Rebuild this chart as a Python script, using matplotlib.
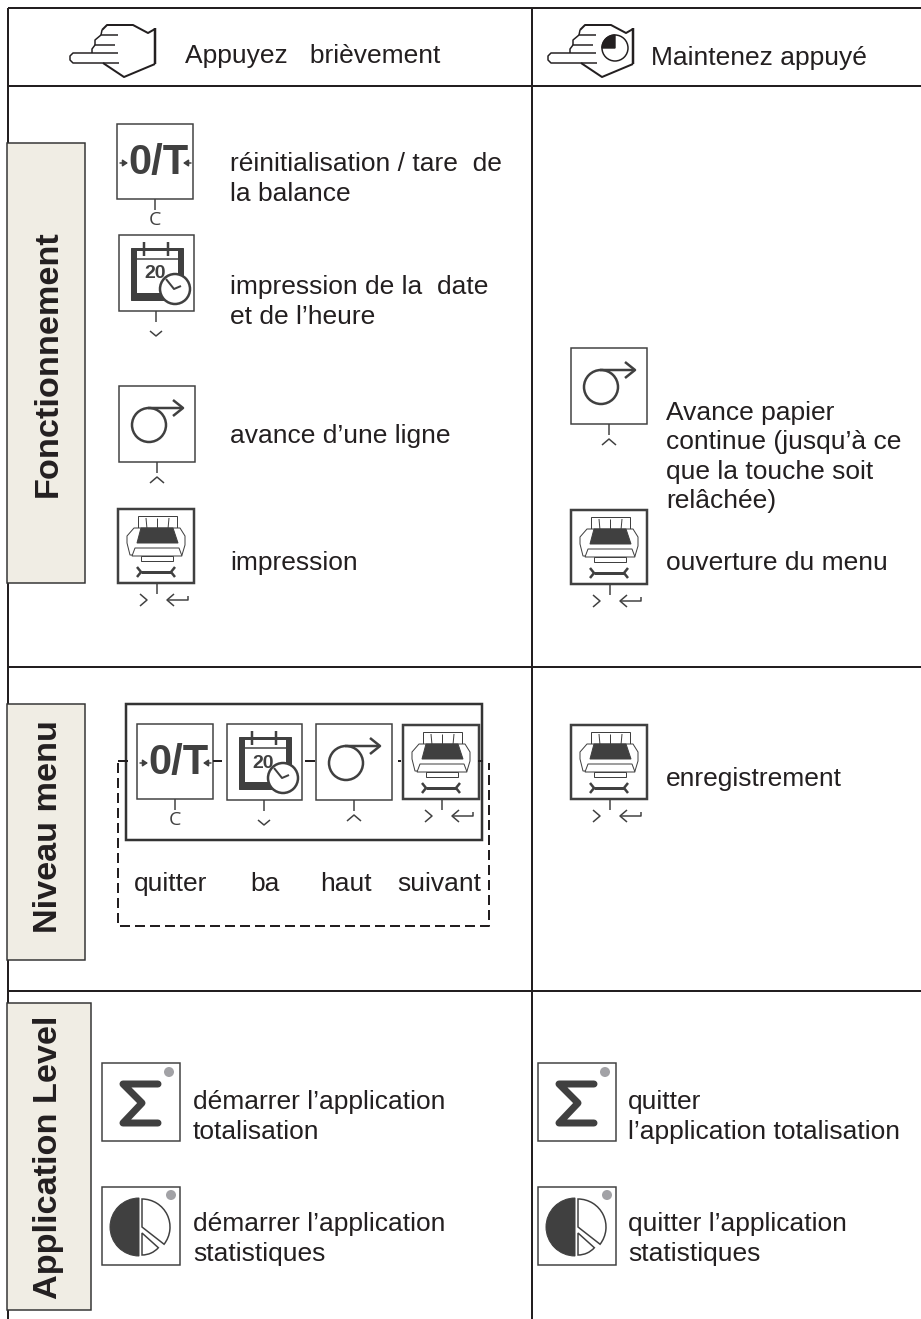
#!/usr/bin/env python3
import matplotlib
matplotlib.use("Agg")
import matplotlib.pyplot as plt
import matplotlib.patches as patches

W, H = 921, 1319
INK = "#231f20"
ICON = "#404040"
SIDE = "#f0ede4"

plt.rcParams['font.family'] = ['Liberation Sans', 'DejaVu Sans']

header_left = "Appuyez   brièvement"
header_right = "Maintenez appuyé"
side_labels = ["Fonctionnement", "Niveau menu", "Application Level"]
left_texts = [
    "réinitialisation / tare  de\nla balance",
    "impression de la  date\net de l’heure",
    "avance d’une ligne",
    "impression",
]
right_texts = [
    "Avance papier\ncontinue (jusqu’à ce\nque la touche soit\nrelâchée)",
    "ouverture du menu",
    "enregistrement",
]
menu_labels = ["quitter", "ba", "haut", "suivant"]
app_left = ["démarrer l’application\ntotalisation", "démarrer l’application\nstatistiques"]
app_right = ["quitter\nl’application totalisation", "quitter l’application\nstatistiques"]

fig = plt.figure(figsize=(W / 100, H / 100), dpi=100)
ax = fig.add_axes([0, 0, 1, 1])
ax.set_xlim(0, W)
ax.set_ylim(H, 0)
ax.axis('off')


def px(w):
    # line width given in image pixels
    return w * 0.72


def line(xs, ys, w=1.5, c=ICON, z=3, **kw):
    ax.plot(xs, ys, color=c, lw=px(w), zorder=z, solid_capstyle=kw.pop('cap', 'butt'), **kw)


def box(x, y, w, h, lw=1.5, ec=ICON, fc='white', z=2):
    ax.add_patch(patches.Rectangle((x, y), w, h, fc=fc, ec=ec, lw=px(lw), zorder=z))


def txt(x, y, s, size=19, **kw):
    ax.text(x, y, s, fontsize=size, color=INK, va=kw.pop('va', 'center'), linespacing=1.27,
            zorder=6, **kw)


def stem(x, y0, y1):
    line([x, x], [y0, y1], 1.5)


def tare_icon(x, y):
    # key with the 0/T sign and letter C below
    box(x, y, 76, 75)
    ax.text(x + 41, y + 39, "0/T", fontsize=30, fontweight='bold', color=ICON, ha='center', va='center', zorder=4)
    for x0, x1 in [(x + 3, x + 11), (x + 74, x + 66)]:
        ax.annotate("", xy=(x1, y + 39), xytext=(x0, y + 39), zorder=4,
                    arrowprops=dict(arrowstyle='-|>,head_width=0.2,head_length=0.3', color=ICON, lw=px(1.5),
                                    shrinkA=0, shrinkB=0))
    stem(x + 38, y + 75, y + 86)
    ax.text(x + 38, y + 96, "C", fontsize=14, color=ICON, ha='center', va='center', zorder=4, family='Open Sans')


def cal_icon(x, y):
    box(x, y, 75, 76)
    ax.add_patch(patches.Rectangle((x + 12, y + 13), 52, 52, fc=ICON, ec=ICON, lw=px(1), zorder=3))
    ax.add_patch(patches.Rectangle((x + 18, y + 16), 41, 42, fc='white', ec='none', zorder=3))
    line([x + 18, x + 59], [y + 24, y + 24], 1.5, z=4)
    line([x + 25, x + 25], [y + 7, y + 21], 2.5, z=4)
    line([x + 49, x + 49], [y + 7, y + 21], 2.5, z=4)
    ax.text(x + 36, y + 39, "20", fontsize=14, fontweight='bold', color=ICON, ha='center', va='center', zorder=4)
    ax.add_patch(patches.Circle((x + 56, y + 54), 15, fc='white', ec=ICON, lw=px(2.5), zorder=5))
    line([x + 47, x + 55, x + 62], [y + 44, y + 54, y + 51], 2, z=6)
    stem(x + 37, y + 76, y + 87)
    line([x + 31, x + 37, x + 43], [y + 96, y + 101, y + 96], 1.5)


def feed_icon(x, y):
    box(x, y, 76, 76)
    ax.add_patch(patches.Circle((x + 30, y + 39), 17, fc='none', ec=ICON, lw=px(2.5), zorder=4))
    line([x + 29, x + 63], [y + 22, y + 22], 2.5)
    line([x + 54, x + 64, x + 54], [y + 14, y + 22, y + 30], 2.5)
    stem(x + 38, y + 76, y + 87)
    line([x + 31, x + 38, x + 45], [y + 97, y + 91, y + 97], 1.5)


def printer_icon(x, y):
    box(x, y, 76, 74, lw=2.5)
    # paper tray with slots
    ax.add_patch(patches.Rectangle((x + 20, y + 7), 39, 14, fc='white', ec=ICON, lw=px(1), zorder=3))
    for a, b in [(x + 28, x + 29), (x + 39, x + 39), (x + 51, x + 50)]:
        line([a, b], [y + 9, y + 20], 1, z=5)
    ax.add_patch(patches.Polygon([(x + 9, y + 34), (x + 9, y + 27), (x + 16, y + 19), (x + 62, y + 19),
                                  (x + 67, y + 27), (x + 67, y + 36), (x + 64, y + 46), (x + 12, y + 46)],
                                 fc='white', ec=ICON, lw=px(1), zorder=3))
    ax.add_patch(patches.Polygon([(x + 19, y + 34), (x + 23, y + 19), (x + 55, y + 19), (x + 60, y + 34)],
                                 fc=ICON, ec=ICON, lw=px(1), zorder=4))
    ax.add_patch(patches.Polygon([(x + 17, y + 39), (x + 61, y + 39), (x + 64, y + 47), (x + 14, y + 47)],
                                 fc='white', ec=ICON, lw=px(1), zorder=5))
    ax.add_patch(patches.Rectangle((x + 23, y + 47), 32, 5, fc='white', ec=ICON, lw=px(1), zorder=5))
    # spanner with forked ends
    line([x + 23, x + 53], [y + 63, y + 63], 3, z=5)
    for sx, d in [(x + 23, -1), (x + 53, 1)]:
        line([sx + d * 4, sx, sx + d * 4], [y + 58, y + 63, y + 68], 2.5, z=5)
    stem(x + 39, y + 74, y + 85)
    line([x + 22, x + 29, x + 22], [y + 85, y + 91, y + 97], 1.5)
    line([x + 49, x + 70, x + 70], [y + 91, y + 91, y + 87], 1.5)
    line([x + 56, x + 49, x + 56], [y + 85, y + 91, y + 97], 1.5)


def sigma_icon(x, y):
    box(x, y, 78, 78, lw=1.5)
    line([x + 56, x + 21, x + 40, x + 21, x + 56], [y + 21, y + 21, y + 40, y + 60, y + 60], 7, cap='round',
         solid_joinstyle='round')
    ax.add_patch(patches.Circle((x + 67, y + 9), 5, fc='#a2a2a6', ec='none', zorder=4))


def pie_icon(x, y):
    box(x, y, 78, 78, lw=1.5)
    cx, cy = x + 37, y + 40
    ax.add_patch(patches.Wedge((cx, cy), 29, 90, 270, fc=ICON, ec=ICON, lw=px(1), zorder=4))
    ax.add_patch(patches.Wedge((cx + 3, cy), 28, -90, 38, fc='white', ec=ICON, lw=px(1.5), zorder=4))
    ax.add_patch(patches.Wedge((cx + 3, cy + 6), 22, 42, 90, fc='white', ec=ICON, lw=px(1.5), zorder=4))
    ax.add_patch(patches.Circle((x + 69, y + 8), 5, fc='#a2a2a6', ec='none', zorder=4))


def hand(x, y, timer=False):
    # outline of the pressing hand, x/y is the top of the fingertip row
    lw = 1.5
    line([x + 32, x + 37, x + 63, x + 78, x + 85], [y + 5, y, y, y + 8, y + 4], 2, c=INK)
    line([x + 85, x + 85], [y + 3, y + 39], 2.5, c=INK)
    line([x + 85, x + 54, x + 33], [y + 39, y + 52, y + 38], 2, c=INK)
    line([x + 48, x + 3, x, x, x + 3, x + 49], [y + 28, y + 28, y + 31, y + 35, y + 38, y + 38], lw, c=INK)
    line([x + 45, x + 25, x + 22, x + 22], [y + 20, y + 20, y + 24, y + 28], lw, c=INK)
    line([x + 48, x + 31, x + 25, x + 25], [y + 10, y + 10, y + 15, y + 20], lw, c=INK)
    line([x + 31, x + 32], [y + 10, y + 5], lw, c=INK)
    if timer:
        cx, cy = x + 67, y + 23
        ax.add_patch(patches.Circle((cx, cy), 13, fc='white', ec=INK, lw=px(1.5), zorder=4))
        ax.add_patch(patches.Wedge((cx, cy), 13, 180, 270, fc=INK, ec=INK, zorder=5))


# table grid
for x0, y0, x1, y1 in [(8, 8, 921, 8), (8, 86, 921, 86), (8, 667, 921, 667), (8, 991, 921, 991),
                       (8, 8, 8, 1319), (532, 8, 532, 1319)]:
    line([x0, x1], [y0, y1], 2, c=INK, z=1)

# header row
hand(70, 25)
hand(548, 25, timer=True)
txt(185, 56, header_left)
txt(651, 58, header_right)

# side labels
for (x, y, w, h), yc, s in zip([(7, 143, 78, 440), (7, 704, 78, 256), (7, 1003, 84, 307)],
                               [364, 827, 1157], side_labels):
    box(x, y, w, h, lw=1.5, ec='#333333', fc=SIDE, z=2)
    txt(48, yc, s, size=24.7, rotation=90, ha='center', fontweight='bold')

# first row, left
tare_icon(117, 124)
cal_icon(119, 235)
feed_icon(119, 386)
printer_icon(118, 509)
for (y, s) in zip([179, 302, 436, 563], left_texts):
    txt(230, y, s)

# first row, right
feed_icon(571, 348)
printer_icon(571, 510)
txt(666, 457, right_texts[0])
txt(666, 563, right_texts[1])

# menu row
box(126, 704, 356, 136, lw=2.5, ec='#333333', z=1)
tare_icon(137, 724)
cal_icon(227, 724)
feed_icon(316, 724)
printer_icon(403, 725)
for x0, x1 in [(118, 128), (213, 222), (305, 315), (398, 401), (478, 483)]:
    line([x0, x1], [761, 761], 2, c=INK)
line([118, 118, 489, 489], [763, 926, 926, 763], 2, c=INK, ls=(0, (5, 2.5)))
for x, s in zip([171, 265, 346, 439], menu_labels):
    txt(x, 884, s, ha='center')
printer_icon(571, 725)
txt(666, 779, right_texts[2])

# application row
sigma_icon(102, 1063)
pie_icon(102, 1187)
sigma_icon(538, 1063)
pie_icon(538, 1187)
for y, a, b in zip([1117, 1239], app_left, app_right):
    txt(193, y, a)
    txt(628, y, b)

fig.savefig('out.png', dpi=100)
